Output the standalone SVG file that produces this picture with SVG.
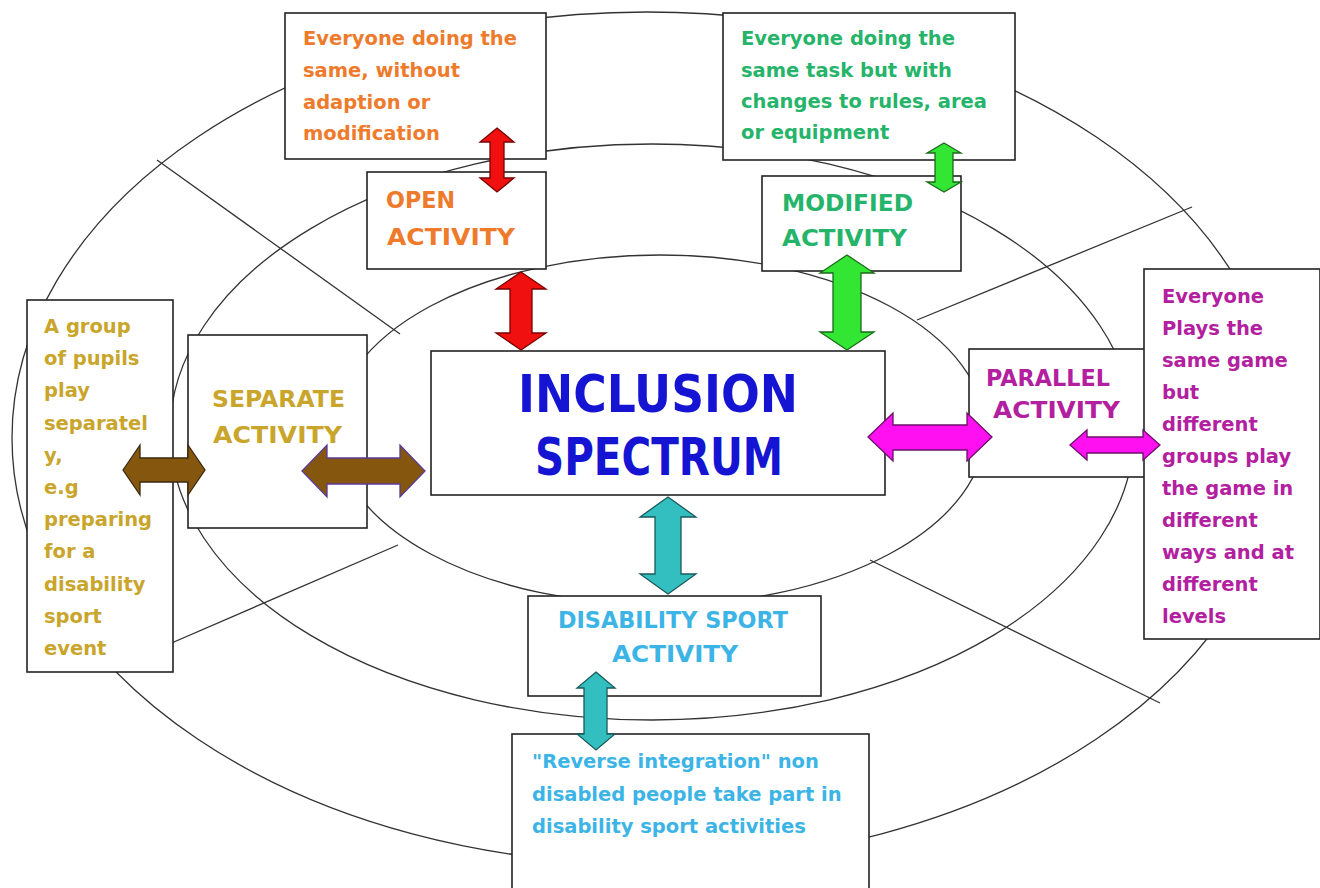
<svg xmlns="http://www.w3.org/2000/svg" width="1320" height="888" viewBox="0 0 1320 888">
<style>
.ring{fill:none;stroke:#333;stroke-width:1.3}
.box{fill:#fff;stroke:#222;stroke-width:1.6}
.d{font-family:"DejaVu Sans","Liberation Sans",sans-serif;font-weight:bold;font-size:19.5px}
.lbl{font-family:"DejaVu Sans","Liberation Sans",sans-serif;font-weight:bold;font-size:23px}
.ttl{font-family:"DejaVu Sans","Liberation Sans",sans-serif;font-weight:bold;font-size:52px;fill:#1414d2}
.or{fill:#ee7b2c}.gr{fill:#25b46a}.go{fill:#c9a52c}.mg{fill:#b3209f}.bl{fill:#3cb4e6}
.arr{stroke-width:1.3;stroke-linejoin:miter}
</style>
<rect width="1320" height="888" fill="#fff"/>
<g id="connectors">
<ellipse class="ring" cx="647" cy="438" rx="635" ry="426"/>
<ellipse class="ring" cx="652" cy="432" rx="482" ry="288"/>
<ellipse class="ring" cx="660" cy="430" rx="325" ry="175"/>
<line class="ring" x1="157" y1="160" x2="400" y2="334"/>
<line class="ring" x1="1192" y1="207" x2="917" y2="320"/>
<line class="ring" x1="870" y1="560" x2="1160" y2="703"/>
<line class="ring" x1="160" y1="648" x2="398" y2="545"/>
</g>
<g id="open-desc">
<rect class="box" x="285" y="13" width="261" height="146"/>
<text class="d or" x="303" y="45">Everyone doing the</text>
<text class="d or" x="303" y="77">same, without</text>
<text class="d or" x="303" y="109">adaption or</text>
<text class="d or" x="303" y="140">modification</text>
</g>
<g id="open">
<rect class="box" x="367" y="172" width="179" height="97"/>
<text class="lbl or" x="386" y="208" textLength="69" lengthAdjust="spacingAndGlyphs">OPEN</text>
<text class="lbl or" x="387" y="245" textLength="128" lengthAdjust="spacingAndGlyphs">ACTIVITY</text>
</g>
<g id="modified-desc">
<rect class="box" x="723" y="13" width="292" height="147"/>
<text class="d gr" x="741" y="45">Everyone doing the</text>
<text class="d gr" x="741" y="77">same task but with</text>
<text class="d gr" x="741" y="108">changes to rules, area</text>
<text class="d gr" x="741" y="139">or equipment</text>
</g>
<g id="modified">
<rect class="box" x="762" y="176" width="199" height="95"/>
<text class="lbl gr" x="782" y="211" textLength="131" lengthAdjust="spacingAndGlyphs">MODIFIED</text>
<text class="lbl gr" x="782" y="246" textLength="125" lengthAdjust="spacingAndGlyphs">ACTIVITY</text>
</g>
<g id="separate-desc">
<rect class="box" x="27" y="300" width="146" height="372"/>
<text class="d go" x="44" y="333">A group</text>
<text class="d go" x="44" y="365">of pupils</text>
<text class="d go" x="44" y="397">play</text>
<text class="d go" x="44" y="430">separatel</text>
<text class="d go" x="44" y="462">y,</text>
<text class="d go" x="44" y="494">e.g</text>
<text class="d go" x="44" y="526">preparing</text>
<text class="d go" x="44" y="558">for a</text>
<text class="d go" x="44" y="591">disability</text>
<text class="d go" x="44" y="623">sport</text>
<text class="d go" x="44" y="655">event</text>
</g>
<g id="separate">
<rect class="box" x="188" y="335" width="179" height="193"/>
<text class="lbl go" x="212" y="407" textLength="133" lengthAdjust="spacingAndGlyphs">SEPARATE</text>
<text class="lbl go" x="213" y="443" textLength="129" lengthAdjust="spacingAndGlyphs">ACTIVITY</text>
</g>
<g id="center">
<rect class="box" x="431" y="351" width="454" height="144"/>
<text class="ttl" x="518" y="412" textLength="280" lengthAdjust="spacingAndGlyphs">INCLUSION</text>
<text class="ttl" x="535" y="475" textLength="248" lengthAdjust="spacingAndGlyphs">SPECTRUM</text>
</g>
<g id="parallel">
<rect class="box" x="969" y="349" width="185" height="128"/>
<text class="lbl mg" x="986" y="386" textLength="124" lengthAdjust="spacingAndGlyphs">PARALLEL</text>
<text class="lbl mg" x="993" y="418" textLength="127" lengthAdjust="spacingAndGlyphs">ACTIVITY</text>
</g>
<g id="parallel-desc">
<rect class="box" x="1144" y="269" width="176" height="370"/>
<text class="d mg" x="1162" y="303">Everyone</text>
<text class="d mg" x="1162" y="335">Plays the</text>
<text class="d mg" x="1162" y="367">same game</text>
<text class="d mg" x="1162" y="399">but</text>
<text class="d mg" x="1162" y="431">different</text>
<text class="d mg" x="1162" y="463">groups play</text>
<text class="d mg" x="1162" y="495">the game in</text>
<text class="d mg" x="1162" y="527">different</text>
<text class="d mg" x="1162" y="559">ways and at</text>
<text class="d mg" x="1162" y="591">different</text>
<text class="d mg" x="1162" y="623">levels</text>
</g>
<g id="disability">
<rect class="box" x="528" y="596" width="293" height="100"/>
<text class="lbl bl" x="558" y="628" textLength="230" lengthAdjust="spacingAndGlyphs">DISABILITY SPORT</text>
<text class="lbl bl" x="612" y="662" textLength="126" lengthAdjust="spacingAndGlyphs">ACTIVITY</text>
</g>
<g id="reverse-desc">
<rect class="box" x="512" y="734" width="357" height="160"/>
<text class="d bl" x="532" y="768">"Reverse integration" non</text>
<text class="d bl" x="532" y="801">disabled people take part in</text>
<text class="d bl" x="532" y="833">disability sport activities</text>
</g>
<g id="arrows">
<polygon class="arr" fill="#f01010" stroke="#7a0000" points="497,128 514,142 504,142 504,178 514,178 497,192 480,178 490,178 490,142 480,142"/>
<polygon class="arr" fill="#f01010" stroke="#7a0000" points="521,272 546,289 532,289 532,333 546,333 521,350 496,333 510,333 510,289 496,289"/>
<polygon class="arr" fill="#33e633" stroke="#1a6a1a" points="944,143 961,153 953,153 953,182 961,182 944,192 927,182 935,182 935,153 927,153"/>
<polygon class="arr" fill="#33e633" stroke="#1a6a1a" points="847,255 874,273 861,273 861,332 874,332 847,350 820,332 833,332 833,273 820,273"/>
<polygon class="arr" fill="#85570e" stroke="#3a2a10" points="123,470 140,445 140,458 188,458 188,445 205,470 188,495 188,482 140,482 140,495"/>
<polygon class="arr" fill="#85570e" stroke="#5a3a9a" points="302,471 327,445 327,458 400,458 400,445 425,471 400,497 400,484 327,484 327,497"/>
<polygon class="arr" fill="#ff10f0" stroke="#6a106a" points="868,437 893,413 893,425 967,425 967,413 992,437 967,461 967,450 893,450 893,461"/>
<polygon class="arr" fill="#ff10f0" stroke="#6a106a" points="1070,445 1087,430 1087,437 1143,437 1143,430 1160,445 1143,460 1143,453 1087,453 1087,460"/>
<polygon class="arr" fill="#33bfbf" stroke="#1a5a5a" points="668,497 696,517 681,517 681,574 696,574 668,594 640,574 655,574 655,517 640,517"/>
<polygon class="arr" fill="#33bfbf" stroke="#1a5a5a" points="596,672 615,688 607,688 607,734 615,734 596,750 577,734 584,734 584,688 577,688"/>
</g>
</svg>
